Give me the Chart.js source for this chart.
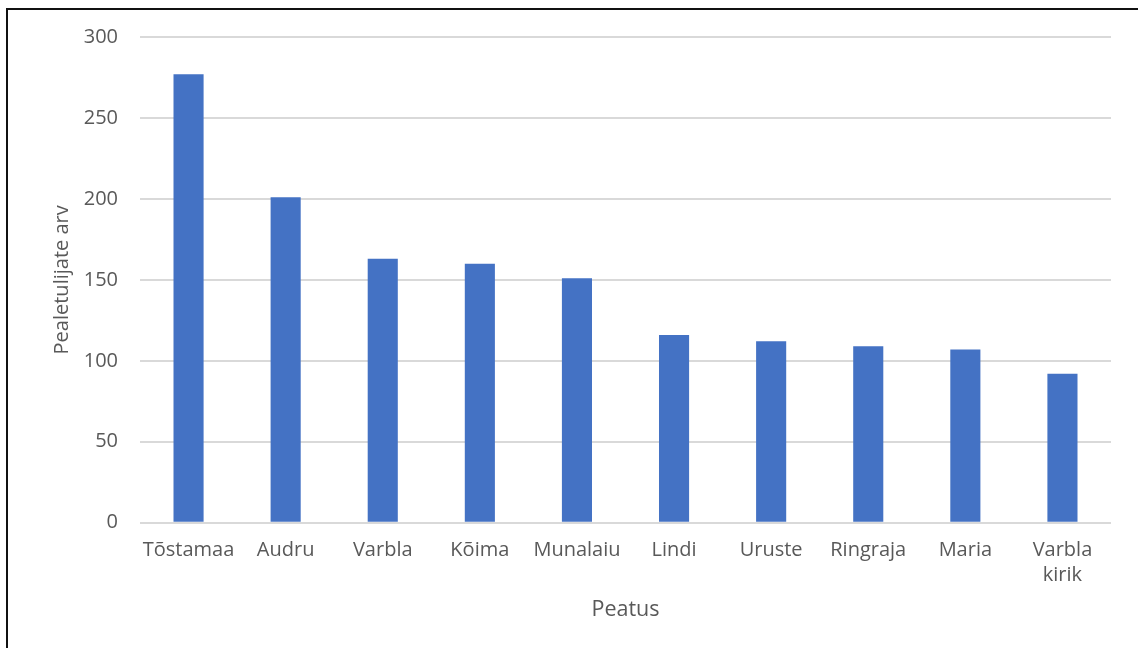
<!DOCTYPE html>
<html>
<head>
<meta charset="utf-8">
<script src="https://cdn.jsdelivr.net/npm/chart.js@4.4.1/dist/chart.umd.min.js"></script>
<style>
  html, body { margin: 0; padding: 0; background: #fff; overflow: hidden; }
  #wrap { position: relative; width: 1138px; height: 648px; }
  #frame {
    position: absolute; left: 6px; top: 8px; width: 1200px; height: 700px;
    border-top: 2px solid #111; border-left: 2px solid #111; pointer-events: none;
  }
  canvas { position: absolute; left: 0; top: 0; }
</style>
</head>
<body>
<div id="wrap">
  <canvas id="chart" width="1138" height="648"></canvas>
  <div id="frame"></div>
</div>
<script>
// andmed
const stops = ['Tõstamaa', 'Audru', 'Varbla', 'Kõima', 'Munalaiu', 'Lindi', 'Uruste', 'Ringraja', 'Maria', ['Varbla', 'kirik']];
const boardings = [277, 201, 163, 160, 151, 116, 112, 109, 107, 92];
const yTicks = [0, 50, 100, 150, 200, 250, 300];

const GREY = '#595959';
const FONT = "'Open Sans', sans-serif";

new Chart(document.getElementById('chart'), {
  type: 'bar',
  data: {
    labels: stops,
    datasets: [{
      label: 'Pealetulijate arv',
      data: boardings,
      backgroundColor: '#4472c4',
      borderWidth: 0,
      categoryPercentage: 1,
      barPercentage: 0.31,
    }],
  },
  options: {
    responsive: false,
    animation: false,
    layout: { padding: { top: 37, right: 27, bottom: 0, left: 0 } },
    plugins: { legend: { display: false }, tooltip: { enabled: false } },
    scales: {
      x: {
        grid: { display: false, drawTicks: false },
        border: { display: false },
        ticks: {
          color: GREY, font: { family: FONT, size: 20, lineHeight: 1.25 },
          padding: 15, maxRotation: 0, autoSkip: false,
        },
        title: {
          display: true, text: 'Peatus', color: GREY,
          font: { family: FONT, size: 21.5 }, padding: { top: 0, bottom: 25 },
        },
        afterFit: (s) => { s.height = 125.3; },
      },
      y: {
        min: 0, max: 300,
        afterBuildTicks: (s) => { s.ticks = yTicks.map((v) => ({ value: v })); },
        grid: { color: '#d9d9d9', lineWidth: 2, drawTicks: false },
        border: { display: false },
        ticks: { color: GREY, font: { family: FONT, size: 20 }, padding: 22 },
        title: {
          display: true, text: 'Pealetulijate arv', color: GREY,
          font: { family: FONT, size: 20 }, padding: { top: 50, bottom: 0 },
        },
        afterFit: (s) => { s.width = 140; },
      },
    },
  },
});
</script>
</body>
</html>
